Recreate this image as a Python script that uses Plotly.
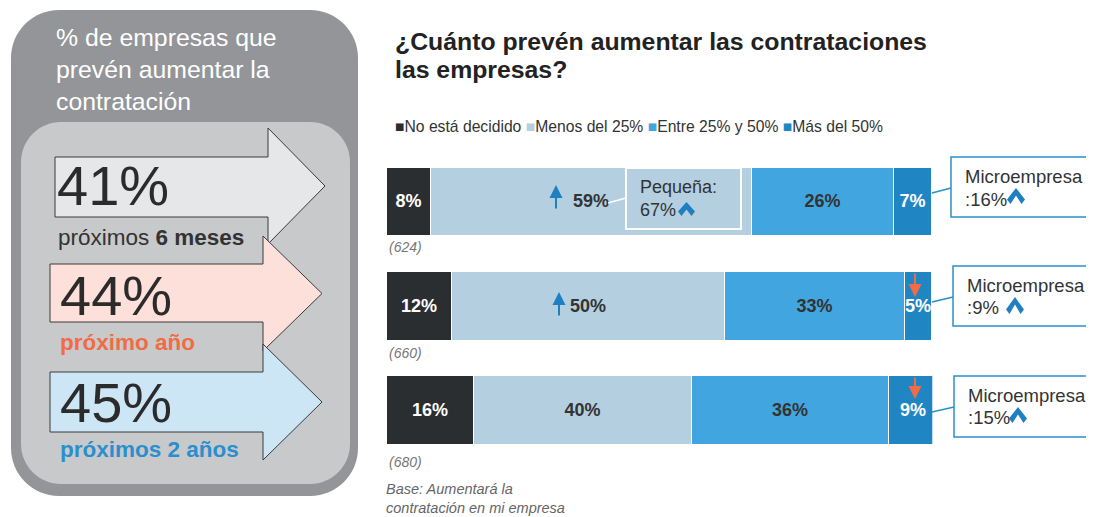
import plotly.graph_objects as go

PAGE_W, PAGE_H = 1094, 517
OFF = 8  # page body margin
W, H = PAGE_W - OFF, PAGE_H - OFF
FONT = "Liberation Sans, Arial, sans-serif"

# ---------------- data ----------------
row_idx = [0, 1, 2]
categories = ["No está decidido", "Menos del 25%", "Entre 25% y 50%", "Más del 50%"]
no_decidido = [8, 12, 16]
menos_25 = [59, 50, 40]
entre_25_50 = [26, 33, 36]
mas_50 = [7, 5, 9]
sample_n = [624, 660, 680]
micro_pct = [16, 9, 15]
pequena_pct = 67
total_pct = [41, 44, 45]
period_regular = ["próximos ", "", ""]
period_bold = ["6 meses", "próximo año", "próximos 2 años"]
title_lines = ["¿Cuánto prevén aumentar las contrataciones", "las empresas?"]

# ---------------- styles ----------------
bar_colors = ["#2b2e31", "#b3cfe0", "#41a6e0", "#1f86c3"]
bar_text_colors = ["#ffffff", "#333333", "#333333", "#ffffff"]
period_colors = ["#333333", "#f26b45", "#2a8fcc"]
arrow_fills = ["#e6e7e9", "#fde0d9", "#cce6f5"]
BLUE = "#1f7fc0"
RED = "#f26b45"


def X(x):
    return (x - OFF) / W


def Y(y):
    return 1 - (y - OFF) / H


def rrect(x0, y0, x1, y1, r):
    k = 0.5523 * r
    p = []
    p.append(f"M {X(x0 + r)},{Y(y0)}")
    p.append(f"L {X(x1 - r)},{Y(y0)}")
    p.append(f"C {X(x1 - r + k)},{Y(y0)} {X(x1)},{Y(y0 + r - k)} {X(x1)},{Y(y0 + r)}")
    p.append(f"L {X(x1)},{Y(y1 - r)}")
    p.append(f"C {X(x1)},{Y(y1 - r + k)} {X(x1 - r + k)},{Y(y1)} {X(x1 - r)},{Y(y1)}")
    p.append(f"L {X(x0 + r)},{Y(y1)}")
    p.append(f"C {X(x0 + r - k)},{Y(y1)} {X(x0)},{Y(y1 - r + k)} {X(x0)},{Y(y1 - r)}")
    p.append(f"L {X(x0)},{Y(y0 + r)}")
    p.append(f"C {X(x0)},{Y(y0 + r - k)} {X(x0 + r - k)},{Y(y0)} {X(x0 + r)},{Y(y0)} Z")
    return " ".join(p)


def poly(pts, close=True):
    s = "M " + " L ".join(f"{X(a)},{Y(b)}" for a, b in pts)
    return s + (" Z" if close else "")


def chevron(x0, y0, x1, y1):
    xm = (x0 + x1) / 2
    pts = [(x0, y1 - 4.5), (xm, y0), (x1, y1 - 4.5), (x1 - 3.5, y1), (xm, y0 + 7.5), (x0 + 3.5, y1)]
    return poly(pts)


fig = go.Figure()

series = [no_decidido, menos_25, entre_25_50, mas_50]
for name, vals, col, tcol in zip(categories, series, bar_colors, bar_text_colors):
    fig.add_trace(go.Bar(
        x=vals, y=row_idx, orientation="h", name=name, width=0.66,
        marker=dict(color=col, line=dict(color="white", width=1)),
        text=[f"{v}%" for v in vals], textposition="inside",
        insidetextanchor="middle", textangle=0, constraintext="none",
        textfont=dict(family=FONT, size=18, color=tcol, weight="bold"),
        hoverinfo="skip", showlegend=False,
    ))

shapes = []
annotations = []


def ann(x, y, text, size, color, xanchor="left", yanchor="middle", **kw):
    annotations.append(dict(
        x=X(x), y=Y(y), xref="paper", yref="paper", text=text, showarrow=False,
        xanchor=xanchor, yanchor=yanchor, align="left",
        font=dict(family=FONT, size=size, color=color), **kw))


# ---------------- left panel ----------------
shapes.append(dict(type="path", path=rrect(11, 10, 358, 496, 48), xref="paper", yref="paper",
                   fillcolor="#939598", line=dict(width=0), layer="below"))
shapes.append(dict(type="path", path=rrect(21, 122, 350, 484, 40), xref="paper", yref="paper",
                   fillcolor="#c8c9cb", line=dict(width=0), layer="below"))

ann(54, 70, "% de empresas que<br>prevén aumentar la<br>contratación", 24.8, "#ffffff")

arrow_geo = [
    # body x0, x1, y0, y1, head top, head bottom, tip x
    (55, 268, 157, 217, 128, 244, 325),
    (50, 263, 264, 322, 236, 351, 322),
    (50, 263, 372, 432, 344, 460, 322),
]
big_x = [55, 58, 58]
big_y = [186, 295, 402]
sub_x = [56, 58, 58]
sub_y = [237, 342, 449]
for i, (x0, x1, y0, y1, ht, hb, tip) in enumerate(arrow_geo):
    yc = (ht + hb) / 2
    pts = [(x0, y0), (x1, y0), (x1, ht), (tip, yc), (x1, hb), (x1, y1), (x0, y1)]
    shapes.append(dict(type="path", path=poly(pts), xref="paper", yref="paper",
                       fillcolor=arrow_fills[i], line=dict(color="#3a3a3a", width=1), layer="below"))
    ann(big_x[i], big_y[i], f"{total_pct[i]}%", 56, "#2b2b2b")
    ann(sub_x[i], sub_y[i], f"{period_regular[i]}<b>{period_bold[i]}</b>", 22.5, period_colors[i])

# ---------------- right: title & legend ----------------
ann(393, 42, f"<b>{title_lines[0]}</b>", 24.8, "#222222")
ann(393, 70, f"<b>{title_lines[1]}</b>", 24.8, "#222222")
legend_txt = " ".join(f'<span style="color:{c}">■</span>{n}' for n, c in zip(categories, bar_colors))
ann(393, 126, legend_txt, 15.7, "#333333")

# sample sizes
samp_y = [247, 353, 462]
for n, yy in zip(sample_n, samp_y):
    ann(387, yy, f"<i>({n})</i>", 14, "#777777")

ann(384, 498, "<i>Base: Aumentará la<br>contratación en mi empresa</i>", 14.5, "#666666")

# up arrows on "Menos del 25%"
for (xx, ytip, ytail) in [(556, 185, 210), (559, 292, 317)]:
    annotations.append(dict(x=X(xx), y=Y(ytip), xref="paper", yref="paper", ax=0, ay=ytail - ytip,
                            text="", showarrow=True, arrowhead=2, arrowsize=1.3, arrowwidth=2,
                            arrowcolor=BLUE))
# red down arrows on "Más del 50%"
for (xx, ytip, ytail) in [(915, 297, 272), (915, 399, 376)]:
    annotations.append(dict(x=X(xx), y=Y(ytip), xref="paper", yref="paper", ax=0, ay=ytail - ytip,
                            text="", showarrow=True, arrowhead=2, arrowsize=1.3, arrowwidth=2,
                            arrowcolor=RED))

# Pequeña callout
shapes.append(dict(type="line", x0=X(608), y0=Y(203), x1=X(626), y1=Y(198), xref="paper", yref="paper",
                   line=dict(color="white", width=1.5), layer="above"))
shapes.append(dict(type="rect", x0=X(626), y0=Y(168), x1=X(741), y1=Y(229), xref="paper", yref="paper",
                   fillcolor="#b3cfe0", line=dict(color="white", width=2), layer="above"))
ann(638, 187, "Pequeña:", 18, "#333333")
ann(638, 210, f"{pequena_pct}%", 18, "#333333")
shapes.append(dict(type="path", path=chevron(678, 202, 695, 216), xref="paper", yref="paper",
                   fillcolor=BLUE, line=dict(width=0), layer="above"))

# Microempresa callouts
micro_boxes = [(951, 157, 217, 193, 188), (953, 266, 326, 302, 297), (954, 376, 437, 412, 407)]
micro_line1_y = [177, 285, 395]
chev = [(1007, 188, 1025, 204), (1006, 297, 1024, 314), (1009, 407, 1027, 423)]
RIGHT = PAGE_W + 20
for i, (bx, by0, by1, ly0, ly1) in enumerate(micro_boxes):
    shapes.append(dict(type="line", x0=X(932), y0=Y(ly0), x1=X(bx), y1=Y(ly1), xref="paper", yref="paper",
                       line=dict(color="#2a8fcc", width=1.5), layer="above"))
    shapes.append(dict(type="rect", x0=X(bx), y0=Y(by0), x1=X(RIGHT), y1=Y(by1), xref="paper", yref="paper",
                       fillcolor="white", line=dict(width=0), layer="above"))
    shapes.append(dict(type="path", path=poly([(RIGHT, by0), (bx, by0), (bx, by1), (RIGHT, by1)], close=False),
                       xref="paper", yref="paper", line=dict(color="#2a8fcc", width=1.5), layer="above"))
    sep = " " if i == 1 else ""
    ann(bx + 12, micro_line1_y[i], "Microempresa", 18.5, "#333333")
    ann(bx + 12, micro_line1_y[i] + 22, f":{micro_pct[i]}%{sep}", 18.5, "#333333")
    shapes.append(dict(type="path", path=chevron(*chev[i]), xref="paper", yref="paper",
                       fillcolor=BLUE, line=dict(width=0), layer="above"))

fig.update_layout(
    width=W, height=H, margin=dict(l=0, r=0, t=0, b=0),
    paper_bgcolor="white", plot_bgcolor="rgba(0,0,0,0)",
    barmode="stack", showlegend=False, bargap=0,
    xaxis=dict(domain=[X(387), X(932.3)], range=[0, 100], visible=False, fixedrange=True),
    yaxis=dict(domain=[Y(462), Y(149.6)], range=[2.5, -0.5], visible=False, fixedrange=True),
    shapes=shapes, annotations=annotations,
    font=dict(family=FONT),
)

fig.write_html("out.html")
